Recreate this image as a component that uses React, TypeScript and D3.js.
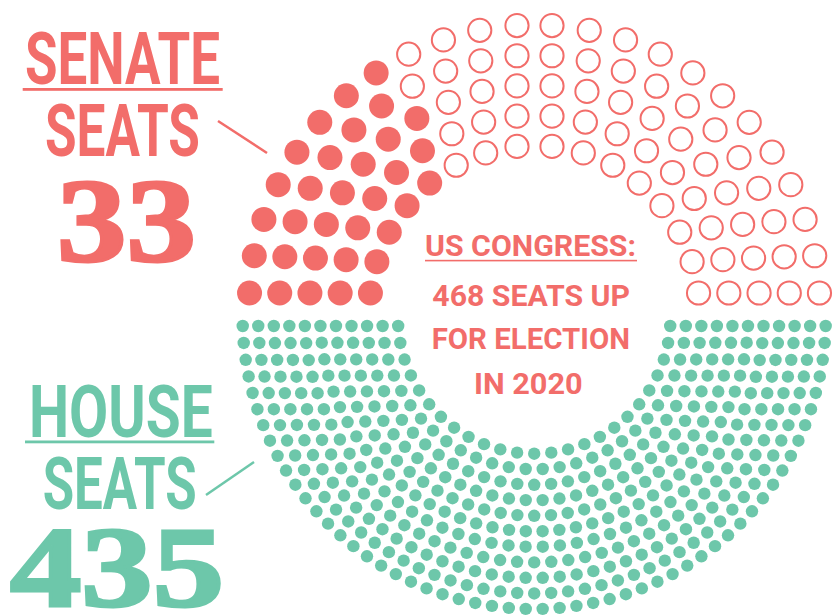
import React from "react";
import * as d3 from "d3";

// ---- data ----
const senateRowSeats = [8, 9, 10, 11, 12]; // seats per row per quarter, inner -> outer
const senateQuarters = ["left", "right"];
const senateFilledCount = 33;
const houseRowSeats = [25, 28, 31, 34, 37, 40, 42, 45, 48, 51, 54]; // inner -> outer
const senateLabel = ["SENATE", "SEATS", "33"];
const houseLabel = ["HOUSE", "SEATS", "435"];
const centerLines = ["US CONGRESS:", "468 SEATS UP", "FOR ELECTION", "IN 2020"];

const RED = "#F26D6A";
const GREEN = "#6DC7AA";
const SANS = "'Liberation Sans Narrow', 'Roboto', 'DejaVu Sans', sans-serif";
const SERIF = "'Liberation Serif', 'DejaVu Serif', serif";

type Seat = { x: number; y: number; sweep: number };

function senateSeats(): Seat[] {
  const cx = 534.5, cy = 310.5, gap = 17.5;
  const rScale = d3.scaleLinear().domain([0, senateRowSeats.length - 1]).range([165, 285.5]);
  const seats: Seat[] = [];
  senateQuarters.forEach((q, qi) => {
    senateRowSeats.forEach((n, ri) => {
      const r = rScale(ri);
      const a0 = Math.asin(gap / r);
      const aScale = d3.scaleLinear().domain([0, n - 1]).range([a0, Math.PI / 2 - a0]);
      for (let j = 0; j < n; j++) {
        const a = aScale(j); // angle from the left horizontal for left quarter
        const sweep = qi === 0 ? a : Math.PI / 2 + a;
        const x = cx - r * Math.cos(sweep);
        const y = cy - r * Math.sin(sweep);
        seats.push({ x, y, sweep });
      }
    });
  });
  seats.sort((a, b) => a.sweep - b.sweep);
  return seats;
}

function houseSeats(): Seat[] {
  const cx = 534.2, cy = 317.4, gap = 8.6;
  const rScale = d3.scaleLinear().domain([0, houseRowSeats.length - 1]).range([136.3, 291.6]);
  const seats: Seat[] = [];
  houseRowSeats.forEach((n, ri) => {
    const r = rScale(ri);
    const a0 = Math.asin(gap / r);
    const aScale = d3.scaleLinear().domain([0, n - 1]).range([a0, Math.PI - a0]);
    for (let j = 0; j < n; j++) {
      const a = aScale(j);
      seats.push({ x: cx - r * Math.cos(a), y: cy + r * Math.sin(a), sweep: a });
    }
  });
  return seats;
}

export default function App() {
  const sSeats = senateSeats();
  const hSeats = houseSeats();
  return (
    <svg width={833} height={616} style={{ position: "absolute", left: 0, top: 0, background: "#fff" }}>
      {/* senate seats */}
      <g>
        {sSeats.map((s, i) =>
          i < senateFilledCount ? (
            <circle key={i} cx={s.x} cy={s.y} r={12.5} fill={RED} />
          ) : (
            <circle key={i} cx={s.x} cy={s.y} r={11.6} fill="none" stroke={RED} strokeWidth={2} />
          )
        )}
      </g>
      {/* house seats */}
      <g>
        {hSeats.map((s, i) => (
          <circle key={i} cx={s.x} cy={s.y} r={6.2} fill={GREEN} />
        ))}
      </g>

      {/* senate label */}
      <g fill={RED}>
        <text x={25} y={84} fontFamily={SANS} fontWeight="bold" fontSize={72} textLength={195} lengthAdjust="spacingAndGlyphs">{senateLabel[0]}</text>
        <rect x={22.7} y={88} width={200} height={2.8} />
        <text x={45} y={156} fontFamily={SANS} fontWeight="bold" fontSize={72} textLength={155} lengthAdjust="spacingAndGlyphs">{senateLabel[1]}</text>
        <text x={57} y={261} fontFamily={SERIF} fontWeight="bold" fontSize={118} textLength={139} lengthAdjust="spacingAndGlyphs" stroke={RED} strokeWidth={3}>{senateLabel[2]}</text>
        <line x1={218} y1={121} x2={267} y2={153} stroke={RED} strokeWidth={2.5} />
      </g>

      {/* house label */}
      <g fill={GREEN}>
        <text x={29} y={436.7} fontFamily={SANS} fontWeight="bold" fontSize={72} textLength={183.7} lengthAdjust="spacingAndGlyphs">{houseLabel[0]}</text>
        <rect x={25} y={440.5} width={189.3} height={2.8} />
        <text x={42.7} y={509} fontFamily={SANS} fontWeight="bold" fontSize={72} textLength={154} lengthAdjust="spacingAndGlyphs">{houseLabel[1]}</text>
        <text x={10} y={606} fontFamily={SERIF} fontWeight="bold" fontSize={114} textLength={214} lengthAdjust="spacingAndGlyphs" stroke={GREEN} strokeWidth={3}>{houseLabel[2]}</text>
        <line x1={206} y1={495} x2={254} y2={462} stroke={GREEN} strokeWidth={2.5} />
      </g>

      {/* center text */}
      <g fill={RED} fontFamily={SANS} fontWeight="bold" fontSize={30}>
        <text x={425} y={256} textLength={211} lengthAdjust="spacingAndGlyphs">{centerLines[0]}</text>
        <rect x={425} y={259.8} width={212} height={1.6} />
        <text x={432.3} y={305.7} textLength={197.7} lengthAdjust="spacingAndGlyphs">{centerLines[1]}</text>
        <text x={431.7} y={349.3} textLength={198.3} lengthAdjust="spacingAndGlyphs">{centerLines[2]}</text>
        <text x={474} y={394} textLength={108.7} lengthAdjust="spacingAndGlyphs">{centerLines[3]}</text>
      </g>
    </svg>
  );
}
